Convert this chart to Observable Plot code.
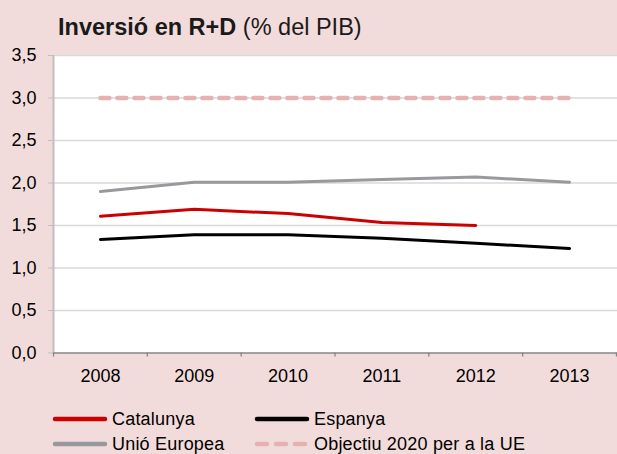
<!DOCTYPE html>
<html>
<head>
<meta charset="utf-8">
<script src="https://cdn.jsdelivr.net/npm/d3@7"></script>
<script src="https://cdn.jsdelivr.net/npm/@observablehq/plot@0.6"></script>
<style>
  html, body { margin: 0; padding: 0; background: #f2dcdb; }
  #wrap { position: relative; width: 617px; height: 454px; overflow: hidden; background: #f2dcdb;
          font-family: "Liberation Sans", Arial, sans-serif; color: #000; }
  #title { position: absolute; left: 58px; top: 14px; font-size: 23.5px; line-height: normal; white-space: nowrap; color: #1a1a1a; }
  #chart { position: absolute; left: 0; top: 46px; }
  .leg { position: absolute; font-size: 18px; line-height: normal; white-space: nowrap; color: #000; letter-spacing: 0.2px; }
  .sw { position: absolute; }
</style>
</head>
<body>
<div id="wrap">
  <div id="title"><b>Inversió en R+D</b> (% del PIB)</div>
  <div id="chart"></div>
  <div id="legend"></div>
</div>
<script>
const years = [2008, 2009, 2010, 2011, 2012, 2013];
const catalunya = [1.61, 1.69, 1.64, 1.535, 1.50];
const espanya = [1.335, 1.39, 1.39, 1.35, 1.29, 1.23];
const unioEuropea = [1.90, 2.01, 2.01, 2.04, 2.07, 2.01];
const objectiu2020 = [3.0, 3.0, 3.0, 3.0, 3.0, 3.0];
const yTicks = [0, 0.5, 1, 1.5, 2, 2.5, 3, 3.5];
const seriesNames = ["Catalunya", "Espanya", "Unió Europea", "Objectiu 2020 per a la UE"];
const seriesColors = ["#cc0000", "#000000", "#97999c", "#e6b2b1"];

const toRows = (vals) => vals.map((v, i) => ({year: years[i], v}));
const bounds = [years[0] - 0.5, ...years.map(y => y + 0.5)];
const fmt = d => d.toFixed(1).replace(".", ",");

const W = 617, H = 354;
const chart = Plot.plot({
  width: W,
  height: H,
  marginLeft: 53,
  marginRight: 0,
  marginTop: 9,
  marginBottom: 47.5,
  style: {background: "transparent", fontFamily: "'Liberation Sans', Arial, sans-serif", fontSize: "18px", color: "#000"},
  x: {type: "linear", domain: [bounds[0], bounds[bounds.length - 1]], range: [53, 616], axis: null},
  y: {domain: [0, 3.5], axis: null},
  marks: [
    Plot.frame({fill: "white", stroke: null}),
    Plot.gridY(yTicks.slice(1), {stroke: "#d9d9d9", strokeOpacity: 1, strokeWidth: 1.3}),
    Plot.axisY(yTicks, {tickFormat: fmt, tickSize: 5, tickPadding: 12, fontSize: 18, stroke: "#bfbfbf", fill: "#000", label: null}),
    Plot.ruleX([bounds[0]], {stroke: "#bfbfbf", strokeWidth: 2}),
    Plot.ruleY([0], {stroke: "#868686", strokeWidth: 1.6}),
    Plot.axisX(bounds, {tickSize: 4, tickFormat: () => "", stroke: "#868686", strokeWidth: 1.3, label: null}),
    Plot.axisX(years, {tickSize: 0, tickPadding: 16.5, tickFormat: d => String(d), fontSize: 18, fill: "#000", label: null}),
    Plot.line(toRows(objectiu2020), {x: "year", y: "v", stroke: seriesColors[3], strokeWidth: 4.5, strokeDasharray: "9,8", strokeLinecap: "round"}),
    Plot.line(toRows(unioEuropea), {x: "year", y: "v", stroke: seriesColors[2], strokeWidth: 3}),
    Plot.line(toRows(catalunya), {x: "year", y: "v", stroke: seriesColors[0], strokeWidth: 3}),
    Plot.line(toRows(espanya), {x: "year", y: "v", stroke: seriesColors[1], strokeWidth: 3})
  ]
});
document.getElementById("chart").appendChild(chart);

// Legend (HTML below the SVG)
const legend = document.getElementById("legend");
const legItems = [
  {name: seriesNames[0], color: seriesColors[0], dash: null, col: 0, row: 0},
  {name: seriesNames[1], color: seriesColors[1], dash: null, col: 1, row: 0},
  {name: seriesNames[2], color: seriesColors[2], dash: null, col: 0, row: 1},
  {name: seriesNames[3], color: seriesColors[3], dash: "10,9", col: 1, row: 1}
];
const colX = [55, 257];
const rowY = [419, 444];
legItems.forEach(it => {
  const x0 = colX[it.col], y0 = rowY[it.row];
  const svg = d3.create("svg").attr("class", "sw")
    .attr("width", 56).attr("height", 10)
    .style("left", (x0 - 3) + "px").style("top", (y0 - 5) + "px");
  svg.append("line")
    .attr("x1", 3).attr("x2", 53).attr("y1", 5).attr("y2", 5)
    .attr("stroke", it.color).attr("stroke-width", 4.5)
    .attr("stroke-linecap", "round")
    .attr("stroke-dasharray", it.dash);
  legend.appendChild(svg.node());
  const t = document.createElement("div");
  t.className = "leg";
  t.textContent = it.name;
  t.style.left = (x0 + 57) + "px";
  t.style.top = (y0 - 10) + "px";
  legend.appendChild(t);
});
</script>
</body>
</html>
